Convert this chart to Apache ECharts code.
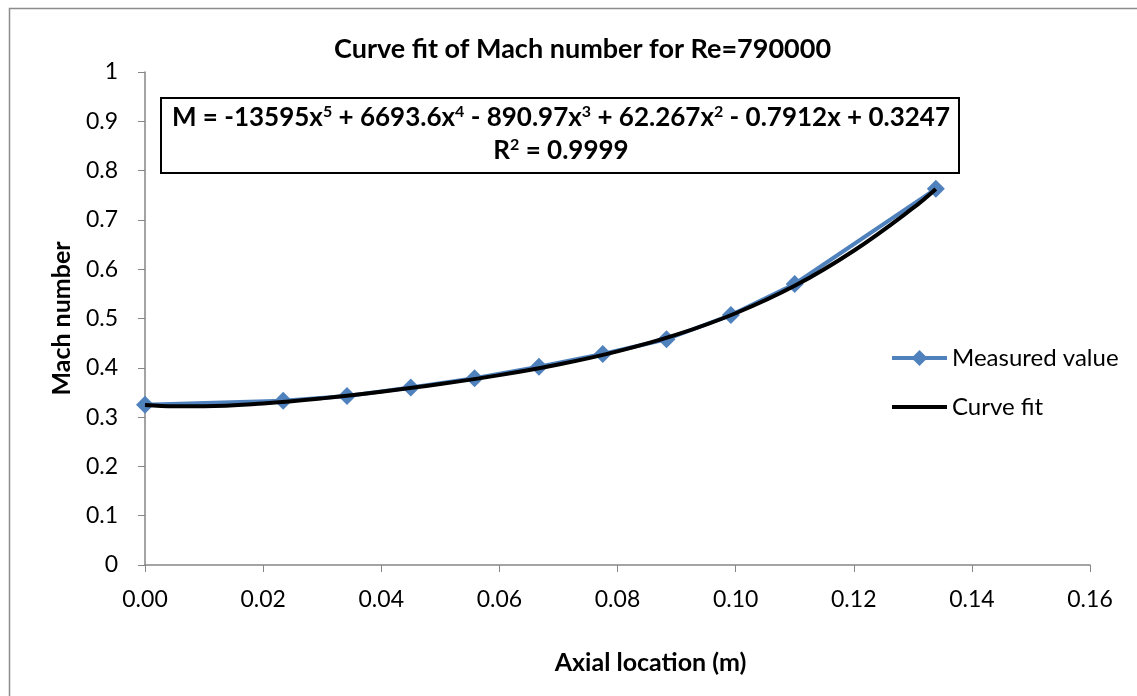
<!DOCTYPE html>
<html>
<head>
<meta charset="utf-8">
<script src="https://cdn.jsdelivr.net/npm/echarts@6/dist/echarts.min.js"></script>
<style>
  html, body { margin: 0; padding: 0; background: #fff; }
  #chart { width: 1137px; height: 696px; }
</style>
</head>
<body>
<div id="chart"></div>
<script>
// Measured Mach number along the axis
const measuredX = [0.0000, 0.0234, 0.0342, 0.0450, 0.0558, 0.0667, 0.0775, 0.0883, 0.0992, 0.1100, 0.1339];
const measuredM = [0.325, 0.333, 0.343, 0.360, 0.379, 0.402, 0.428, 0.458, 0.507, 0.570, 0.763];

// Fitted curve, sampled along the axis
const fitX = [0.000, 0.005, 0.010, 0.020, 0.030, 0.040, 0.050, 0.060, 0.070, 0.080, 0.090, 0.100, 0.110, 0.120, 0.130, 0.1339];
const fitM = [0.3247, 0.3222, 0.3222, 0.3277, 0.3380, 0.3514, 0.3670, 0.3851, 0.4067, 0.4334, 0.4672, 0.5107, 0.5663, 0.6375, 0.7237, 0.7629];

const xTicks = ['0.00', '0.02', '0.04', '0.06', '0.08', '0.10', '0.12', '0.14', '0.16'];

const FONT = 'Lato, "Open Sans", sans-serif';
const AXIS_GREY = '#868686';

const chart = echarts.init(document.getElementById('chart'), null, { renderer: 'canvas' });

const pairs = (xs, ys) => xs.map((x, i) => [x, ys[i]]);

const eqRich = {
  b: { fontFamily: FONT, fontSize: 26, fontWeight: 'bold', color: '#000' },
  s: { fontFamily: FONT, fontSize: 16, fontWeight: 'bold', color: '#000', padding: [0, 0, 12, 0] }
};

chart.setOption({
  backgroundColor: '#fff',
  animation: false,
  textStyle: { fontFamily: FONT, color: '#000' },
  title: {
    text: 'Curve fit of Mach number for Re=790000',
    left: 329,
    top: 31,
    textStyle: { fontFamily: FONT, fontSize: 27, fontWeight: 'bold', color: '#000' }
  },
  grid: { left: 145, right: 47, top: 72, bottom: 131, containLabel: false },
  legend: {
    orient: 'vertical',
    left: 885,
    top: 341,
    itemWidth: 55,
    itemHeight: 20,
    itemGap: 25,
    textStyle: { fontFamily: FONT, fontSize: 24, color: '#000' },
    data: [
      { name: 'Measured value', lineStyle: { width: 4 } },
      { name: 'Curve fit', itemStyle: { opacity: 0 }, lineStyle: { width: 4 } }
    ]
  },
  xAxis: {
    type: 'value',
    min: 0,
    max: 0.16,
    interval: 0.02,
    name: 'Axial location (m)',
    nameLocation: 'middle',
    nameGap: 85,
    nameTextStyle: { fontFamily: FONT, fontSize: 25, fontWeight: 'bold', color: '#000', padding: [0, 0, 0, 66] },
    axisLine: { show: true, lineStyle: { color: AXIS_GREY, width: 1.5 } },
    axisTick: { show: true, length: 7, lineStyle: { color: AXIS_GREY, width: 1 } },
    axisLabel: {
      margin: 23,
      fontFamily: FONT, fontSize: 23, color: '#000',
      formatter: (v) => xTicks[Math.round(v / 0.02)]
    },
    splitLine: { show: false }
  },
  yAxis: {
    type: 'value',
    min: 0,
    max: 1,
    interval: 0.1,
    name: 'Mach number',
    nameLocation: 'middle',
    nameGap: 71,
    nameTextStyle: { fontFamily: FONT, fontSize: 25, fontWeight: 'bold', color: '#000' },
    axisLine: { show: true, lineStyle: { color: AXIS_GREY, width: 1.5 } },
    axisTick: { show: true, length: 7, lineStyle: { color: AXIS_GREY, width: 1 } },
    axisLabel: {
      margin: 27,
      fontFamily: FONT, fontSize: 23, color: '#000',
      formatter: (v) => (v === 0 || v === 1) ? String(v) : v.toFixed(1)
    },
    splitLine: { show: false }
  },
  series: [
    {
      name: 'Measured value',
      type: 'line',
      data: pairs(measuredX, measuredM),
      symbol: 'diamond',
      symbolSize: 18,
      showAllSymbol: true,
      lineStyle: { color: '#4F81BD', width: 4 },
      itemStyle: { color: '#4F81BD' },
      z: 2
    },
    {
      name: 'Curve fit',
      type: 'line',
      data: pairs(fitX, fitM),
      smooth: 0.4,
      symbol: 'none',
      lineStyle: { color: '#000', width: 4 },
      itemStyle: { color: '#000' },
      z: 3
    }
  ],
  graphic: [
    // chart frame
    {
      type: 'rect',
      left: 7, top: 6,
      shape: { width: 1140, height: 700 },
      style: { fill: 'none', stroke: '#8c8c8c', lineWidth: 1.5 },
      silent: true, z: 0
    },
    // trendline equation box
    {
      type: 'rect',
      left: 160, top: 97,
      shape: { width: 798, height: 75 },
      style: { fill: '#fff', stroke: '#000', lineWidth: 2 },
      z: 10
    },
    {
      type: 'text',
      x: 561, y: 118,
      z: 11,
      style: {
        text: '{b|M = -13595x}{s|5}{b| + 6693.6x}{s|4}{b| - 890.97x}{s|3}{b| + 62.267x}{s|2}{b| - 0.7912x + 0.3247}',
        align: 'center',
        verticalAlign: 'middle',
        rich: eqRich
      }
    },
    {
      type: 'text',
      x: 561, y: 151,
      z: 11,
      style: {
        text: '{b|R}{s|2}{b| = 0.9999}',
        align: 'center',
        verticalAlign: 'middle',
        rich: eqRich
      }
    }
  ]
});
</script>
</body>
</html>
